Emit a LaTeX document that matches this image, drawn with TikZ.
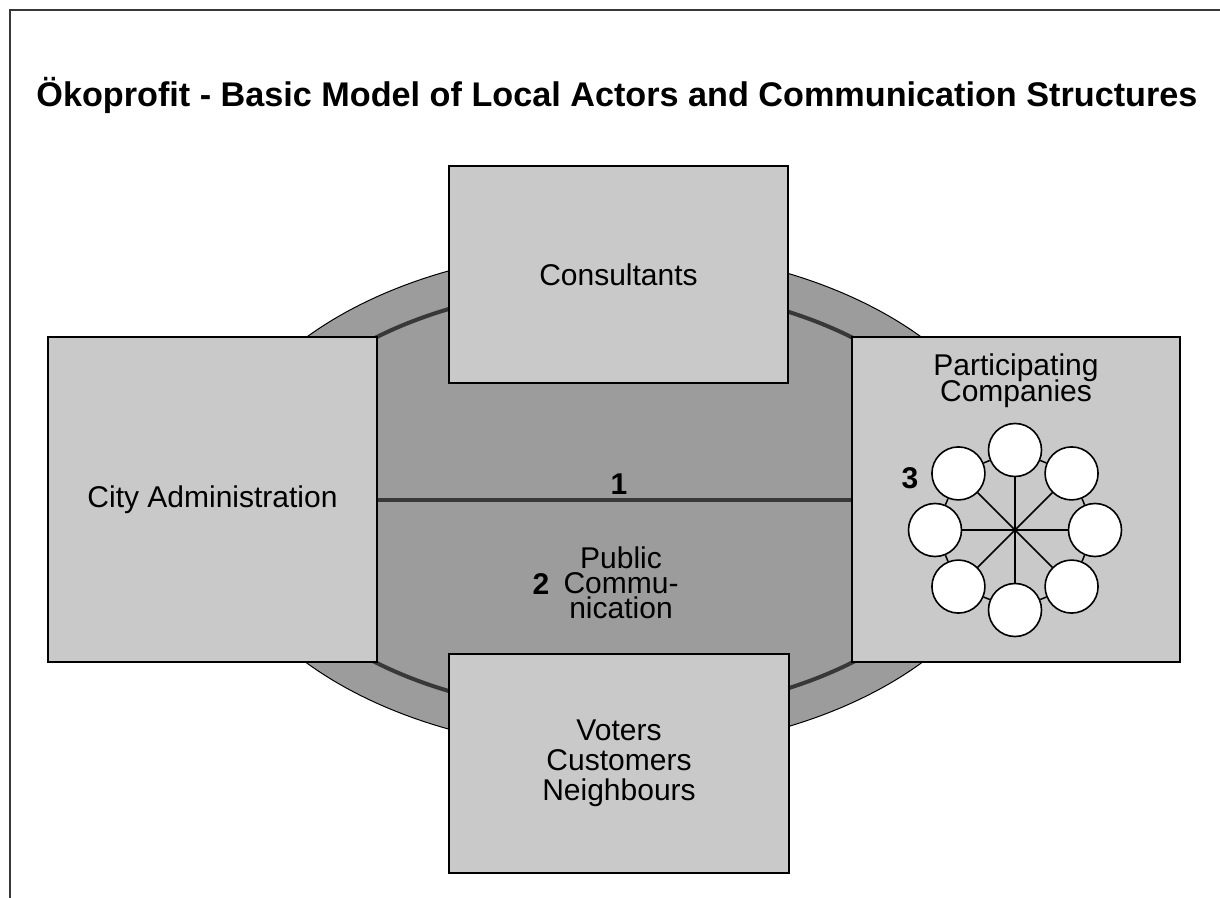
\documentclass[tikz,border=0pt]{standalone}
\usepackage{fontspec}
\setmainfont{Liberation Sans}
\usetikzlibrary{positioning}

\definecolor{boxgray}{gray}{0.79}
\definecolor{ringgray}{gray}{0.61}
\definecolor{darkline}{gray}{0.22}
% let stacked labels sit closer than their glyphs allow
\setlength{\lineskiplimit}{-20pt}

\tikzset{
  actor/.style={draw=black, line width=0.8pt, fill=boxgray, inner sep=0pt,
    align=center, font=\fontsize{15}{15}\selectfont},
  firm/.style={circle, draw=black, line width=0.8pt, fill=white,
    minimum size=26.5pt, inner sep=0pt},
  num/.style={font=\fontsize{15}{15}\selectfont\bfseries},
  tight/.style={align=center, font=\fontsize{15}{#1}\selectfont},
}

\begin{document}
\begin{tikzpicture}[x=0.5pt, y=-0.5pt]
\useasboundingbox (0,0) rectangle (1220,898);
\draw [line width=1pt, darkline] (10,898) -- (10,10) -- (1220,10);
\node [anchor=base west, inner sep=0pt, font=\fontsize{17.1}{17}\selectfont\bfseries] (title) at (36,107)
  {Ökoprofit - Basic Model of Local Actors and Communication Structures};

% ring and inner arc, mostly hidden by the boxes
\filldraw [fill=ringgray, draw=black, line width=0.5pt] (614,500) ellipse [x radius=202pt, y radius=125.5pt];
\draw [darkline, line width=2pt] (614,500) ellipse [x radius=183pt, y radius=107pt];

\node [actor, minimum width=164.5pt, minimum height=162.5pt] (city) at (212.5,499.5) {City Administration};
\node [actor, minimum width=169.5pt, minimum height=108.5pt] (consult) at (618.5,274.5) {Consultants};
\node [actor, minimum width=164pt, minimum height=162.5pt] (firms) at (1016,499.5) {};
\node [actor, minimum width=170pt, minimum height=109.5pt] (voters) at (619,763.5) {Voters\\Customers\\Neighbours};

\draw [darkline, line width=2pt] (city.east) -- (firms.west);
\node [num] (one) at (619,484) {1};
\node [tight=12.5] (public) at (621,583) {Public\\Commu-\\nication};
\node [num] (two) at (541,584) {2};

\node [tight=13, below=5pt of firms.north] (firmstext) {Participating\\Companies};
\node [num] (three) at (910,478) {3};

% companies network
\coordinate (hub) at (1015,530);
\foreach \i in {1,...,8}
  \node [firm] (f\i) at ([shift={({90-45*\i}:40pt)}]hub) {};
\foreach \i [evaluate=\i as \j using {int(mod(\i,8)+1)}] in {1,...,8} {
  \draw [line width=0.75pt] (hub) -- (f\i);
  \draw [line width=0.75pt] (f\i) -- (f\j);
}
\end{tikzpicture}
\end{document}
